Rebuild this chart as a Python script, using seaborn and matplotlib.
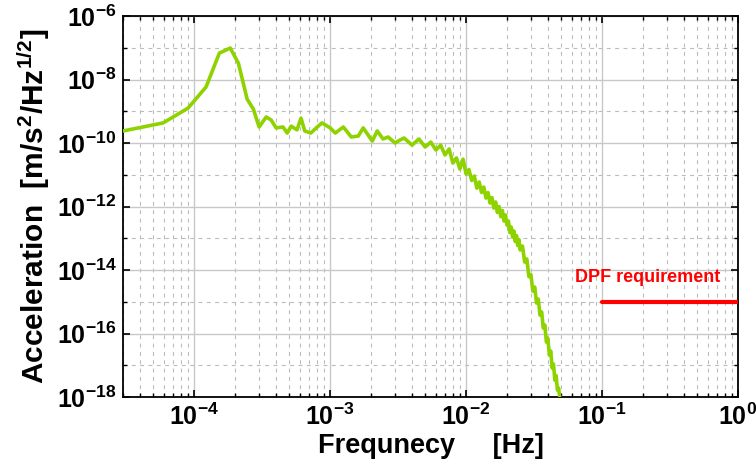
import matplotlib
matplotlib.use("Agg")
import matplotlib.pyplot as plt
import matplotlib.ticker as mticker
import seaborn as sns
import pandas as pd

freq_low = [3.0e-5, 5.9e-5, 9.0e-5, 1.22e-4, 1.53e-4, 1.84e-4, 2.11e-4, 2.45e-4,
            2.72e-4, 3.0e-4, 3.38e-4, 3.68e-4, 4.0e-4, 4.5e-4, 4.83e-4, 5.16e-4,
            5.7e-4, 6.1e-4, 6.5e-4, 7.2e-4, 7.9e-4, 8.7e-4, 1.0e-3, 1.09e-3,
            1.25e-3, 1.43e-3, 1.61e-3, 1.75e-3, 2.04e-3, 2.22e-3, 2.45e-3,
            2.67e-3, 3.0e-3, 3.27e-3]
asd_low = [2.4e-10, 4.3e-10, 1.26e-9, 5.8e-9, 6.8e-8, 9.8e-8, 3.3e-8, 2.4e-9,
           1.18e-9, 3.2e-10, 6.6e-10, 5.3e-10, 3.0e-10, 3.2e-10, 2.06e-10, 3.4e-10,
           2.6e-10, 6.1e-10, 2.4e-10, 2.06e-10, 3.0e-10, 4.3e-10, 3.0e-10, 2.06e-10,
           3.2e-10, 1.55e-10, 1.66e-10, 3.0e-10, 1.15e-10, 2.4e-10, 1.34e-10,
           1.55e-10, 1.0e-10, 1.25e-10]

freq_mid = [3.5e-3, 4.0e-3, 4.5e-3, 5.0e-3, 5.5e-3, 6.0e-3, 6.5e-3, 7.0e-3,
            7.5e-3, 8.0e-3, 8.5e-3, 9.0e-3, 9.5e-3]
asd_mid = [1.44e-10, 8.6e-11, 1.34e-10, 7.5e-11, 1.07e-10, 6.0e-11, 8.6e-11, 4.2e-11,
           6.5e-11, 2.34e-11, 3.4e-11, 1.52e-11, 3.1e-11]

freq_high = [0.0100, 0.0105, 0.0110, 0.0115, 0.0120, 0.0125, 0.0130, 0.0135,
             0.0140, 0.0145, 0.0150, 0.0155, 0.0160, 0.0165, 0.0170, 0.0175,
             0.0180, 0.0185, 0.0190, 0.0195, 0.0200, 0.0205, 0.0210, 0.0215,
             0.0220, 0.0225, 0.0230, 0.0235, 0.0240, 0.0245, 0.0250, 0.026,
             0.027, 0.028, 0.029, 0.030, 0.031, 0.032, 0.033, 0.034, 0.035,
             0.036, 0.037, 0.038, 0.039, 0.040, 0.041, 0.042, 0.043, 0.044,
             0.045, 0.046, 0.047, 0.048, 0.049, 0.050]
asd_high = [1.06e-11, 1.46e-11, 6.6e-12, 9.1e-12, 3.8e-12, 5.9e-12, 2.76e-12, 4.1e-12,
            1.85e-12, 2.76e-12, 1.29e-12, 1.92e-12, 8.97e-13, 1.39e-12, 6.5e-13,
            1.0e-12, 4.8e-13, 7.5e-13, 3.5e-13, 5.4e-13, 2.6e-13, 3.5e-13, 1.52e-13,
            2.26e-13, 1.09e-13, 1.69e-13, 7.9e-14, 1.22e-13, 5.9e-14, 9.1e-14,
            4.3e-14, 5.7e-14, 1.79e-14, 2.22e-14, 6.2e-15, 7.2e-15, 2.18e-15,
            2.92e-15, 9.1e-16, 1.22e-15, 3.8e-16, 4.75e-16, 1.49e-16, 1.85e-16,
            5.4e-17, 7.0e-17, 2.1e-17, 2.8e-17, 8.2e-18, 1.09e-17, 3.4e-18,
            4.75e-18, 1.66e-18, 1.92e-18, 8.97e-19, 7.0e-19]

req_freq = [0.1, 1.0]
req_level = [1e-15, 1e-15]

y_major = [1e-18, 1e-16, 1e-14, 1e-12, 1e-10, 1e-8, 1e-6]
y_major_labels = ["$10^{-18}$", "$10^{-16}$", "$10^{-14}$", "$10^{-12}$",
                  "$10^{-10}$", "$10^{-8}$", "$10^{-6}$"]
y_minor = [1e-17, 1e-15, 1e-13, 1e-11, 1e-9, 1e-7]
x_major = [1e-4, 1e-3, 1e-2, 1e-1, 1e0]
x_major_labels = ["$10^{-4}$", "$10^{-3}$", "$10^{-2}$", "$10^{-1}$", "$10^{0}$"]

df = pd.DataFrame({"freq": freq_low + freq_mid + freq_high,
                   "asd": asd_low + asd_mid + asd_high})
df_req = pd.DataFrame({"freq": req_freq, "asd": req_level})

sns.set_style("ticks")
plt.rcParams["font.family"] = ["Liberation Sans", "DejaVu Sans"]
plt.rcParams["font.weight"] = "bold"
plt.rcParams["text.color"] = "black"
plt.rcParams["axes.labelcolor"] = "black"
plt.rcParams["xtick.color"] = "black"
plt.rcParams["ytick.color"] = "black"
plt.rcParams["mathtext.fontset"] = "custom"
plt.rcParams["mathtext.rm"] = "Liberation Sans:bold"
plt.rcParams["mathtext.bf"] = "Liberation Sans:bold"
plt.rcParams["mathtext.it"] = "Liberation Sans:bold"
plt.rcParams["mathtext.default"] = "rm"

fig = plt.figure(figsize=(7.56, 4.71), dpi=100)
ax = fig.add_axes([0.163, 0.157, 0.813, 0.809])
ax.set_xscale("log")
ax.set_yscale("log")

sns.lineplot(data=df, x="freq", y="asd", ax=ax, color="#8ED300", linewidth=2.6,
             estimator=None, sort=False, zorder=3)
sns.lineplot(data=df_req, x="freq", y="asd", ax=ax, color="#FF0000", linewidth=3,
             estimator=None, zorder=3)
ax.text(0.218, 5.8e-15, "DPF requirement", color="#FF0000", fontsize=13,
        fontweight="bold", ha="center", va="center")

ax.set_xlim(3e-5, 1)
ax.set_ylim(1e-18, 1e-6)

ax.set_xticks(x_major)
ax.set_xticklabels(x_major_labels)
ax.xaxis.set_minor_locator(mticker.LogLocator(base=10, subs=range(2, 10), numticks=20))
ax.xaxis.set_minor_formatter(mticker.NullFormatter())
ax.set_yticks(y_major)
ax.set_yticklabels(y_major_labels)
ax.set_yticks(y_minor, minor=True)
ax.yaxis.set_minor_formatter(mticker.NullFormatter())

ax.grid(which="major", color="#c8c8c8", linestyle="-", linewidth=1.0, zorder=0)
ax.grid(which="minor", color="#bcbcbc", linestyle=(0, (3.5, 4)), linewidth=0.8, zorder=0)
ax.set_axisbelow(True)

ax.tick_params(which="both", direction="in", top=True, right=True, color="black")
ax.tick_params(which="major", length=5, width=1.2, labelsize=18, pad=5)
ax.tick_params(which="minor", length=3, width=1.0)
for s in ax.spines.values():
    s.set_linewidth(1.3)
    s.set_color("black")

ax.set_xlabel("Frequnecy     [Hz]", fontsize=19.5, fontweight="bold", labelpad=2)
ax.set_ylabel("Acceleration  [m/s$^2$/Hz$^{1/2}$]", fontsize=21.5,
              fontweight="bold", labelpad=3)

fig.savefig("out.png", dpi=100)
